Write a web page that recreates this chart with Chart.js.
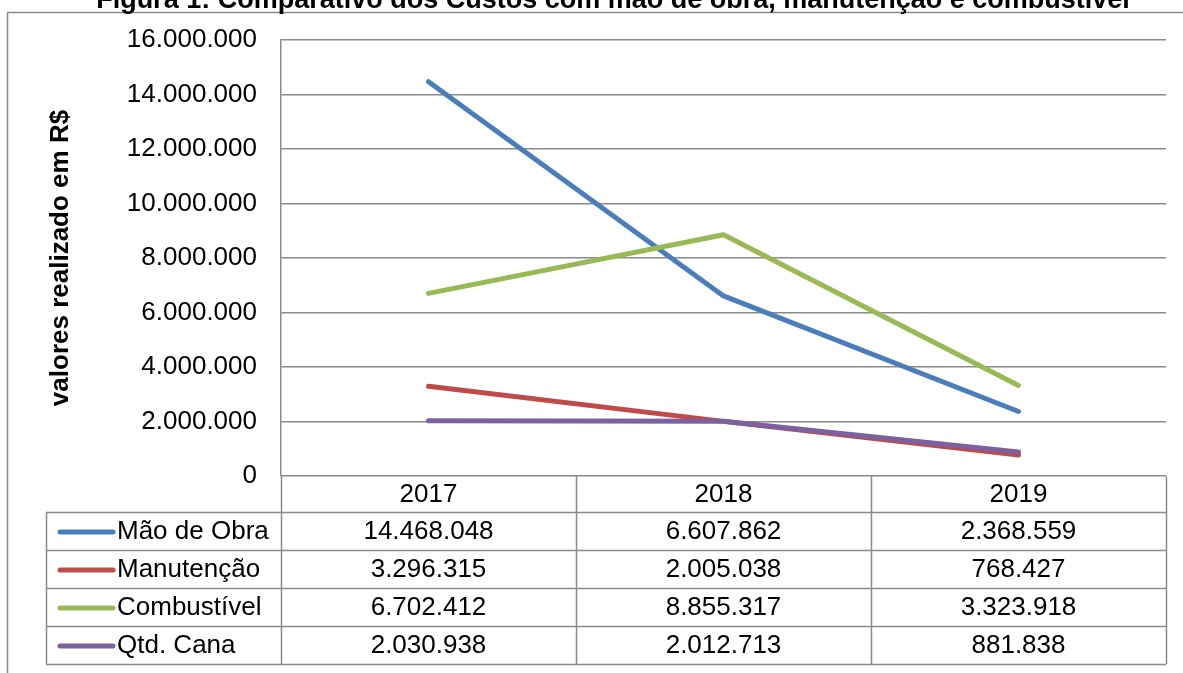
<!DOCTYPE html>
<html>
<head>
<meta charset="utf-8">
<script src="https://cdn.jsdelivr.net/npm/chart.js@4.4.1/dist/chart.umd.min.js"></script>
<style>
  html, body { margin: 0; padding: 0; background: #ffffff; }
  #chart { display: block; }
</style>
</head>
<body>
<canvas id="chart" width="1183" height="673"></canvas>
<script>
// Anos (categorias)
const years = ['2017', '2018', '2019'];

// Séries (R$)
const maoDeObra   = [14468048, 6607862, 2368559];
const manutencao  = [3296315, 2005038, 768427];
const combustivel = [6702412, 8855317, 3323918];
const qtdCana     = [2030938, 2012713, 881838];

const seriesNames = ['Mão de Obra', 'Manutenção', 'Combustível', 'Qtd. Cana'];
const seriesColors = ['#4A7EBB', '#BE4B48', '#98B954', '#7D60A0'];

// Eixo Y
const yMin = 0;
const yMax = 16000000;
const yStep = 2000000;

const titleText = 'Figura 1: Comparativo dos Custos com mão de obra, manutenção e combustível';
const yAxisTitle = 'valores realizado em R$';

const FONT = '"Liberation Sans", Arial, Helvetica, sans-serif';
const GRID = '#8a8a8a';

function fmt(n) {
  return String(Math.round(n)).replace(/\B(?=(\d{3})+(?!\d))/g, '.');
}

const seriesData = [maoDeObra, manutencao, combustivel, qtdCana];

// Moldura, título e tabela de dados com legenda
const tablePlugin = {
  id: 'dataTable',
  beforeDraw(chart) {
    const ctx = chart.ctx;
    ctx.save();
    ctx.fillStyle = '#ffffff';
    ctx.fillRect(0, 0, chart.width, chart.height);
    // moldura externa
    ctx.strokeStyle = GRID;
    ctx.lineWidth = 1.5;
    ctx.beginPath();
    ctx.moveTo(7.5, chart.height);
    ctx.lineTo(7.5, 12.5);
    ctx.lineTo(chart.width, 12.5);
    ctx.stroke();
    // título
    ctx.fillStyle = '#000000';
    ctx.font = 'bold 27px ' + FONT;
    ctx.textAlign = 'center';
    ctx.textBaseline = 'alphabetic';
    ctx.fillText(titleText, 613, 8);
    ctx.restore();
  },
  afterDraw(chart) {
    const ctx = chart.ctx;
    const x = chart.scales.x;
    const area = chart.chartArea;
    const n = years.length;
    const colW = (area.right - area.left) / n;
    const headerTop = area.bottom;
    const headerH = 36;
    const rowH = 38;
    const legendLeft = 46;
    const rowsTop = headerTop + headerH;
    const bottom = rowsTop + rowH * seriesNames.length;

    ctx.save();
    ctx.strokeStyle = GRID;
    ctx.lineWidth = 1.5;
    ctx.beginPath();
    // linhas horizontais
    for (let r = 0; r <= seriesNames.length; r++) {
      const y = Math.round(rowsTop + r * rowH) + 0.5;
      ctx.moveTo(legendLeft, y);
      ctx.lineTo(area.right, y);
    }
    // verticais do cabeçalho e das colunas
    for (let c = 0; c <= n; c++) {
      const xx = Math.round(area.left + c * colW) + 0.5;
      ctx.moveTo(xx, headerTop);
      ctx.lineTo(xx, bottom);
    }
    ctx.moveTo(legendLeft + 0.5, rowsTop);
    ctx.lineTo(legendLeft + 0.5, bottom);
    ctx.stroke();

    ctx.fillStyle = '#000000';
    ctx.font = '26px ' + FONT;
    ctx.textBaseline = 'middle';
    ctx.textAlign = 'center';
    years.forEach((yr, i) => {
      ctx.fillText(yr, x.getPixelForValue(i), headerTop + headerH / 2 + 1);
    });

    seriesNames.forEach((name, r) => {
      const cy = rowsTop + r * rowH + rowH / 2 + 1;
      // chave da legenda
      ctx.strokeStyle = seriesColors[r];
      ctx.lineWidth = 5;
      ctx.lineCap = 'round';
      ctx.beginPath();
      ctx.moveTo(60, cy);
      ctx.lineTo(113, cy);
      ctx.stroke();
      ctx.textAlign = 'left';
      ctx.fillText(name, 117, cy);
      ctx.textAlign = 'center';
      seriesData[r].forEach((v, i) => {
        ctx.fillText(fmt(v), x.getPixelForValue(i), cy);
      });
    });
    ctx.restore();
  }
};

const datasets = seriesNames.map((name, i) => ({
  label: name,
  data: seriesData[i],
  borderColor: seriesColors[i],
  backgroundColor: seriesColors[i],
  borderWidth: 5,
  borderCapStyle: 'round',
  borderJoinStyle: 'round',
  pointRadius: 0,
  pointHoverRadius: 0,
  tension: 0,
  fill: false,
  order: seriesNames.length - i
}));

new Chart(document.getElementById('chart'), {
  type: 'line',
  data: { labels: years, datasets },
  options: {
    responsive: false,
    animation: false,
    events: [],
    layout: { padding: { left: 0, top: 40, right: 17, bottom: 197 } },
    plugins: {
      legend: { display: false },
      title: { display: false },
      tooltip: { enabled: false }
    },
    scales: {
      x: {
        type: 'category',
        display: false,
        offset: true
      },
      y: {
        min: yMin,
        max: yMax,
        afterFit(scale) { scale.width = 281; },
        ticks: {
          stepSize: yStep,
          padding: 24,
          color: '#000000',
          font: { family: FONT, size: 26 },
          callback: (v) => fmt(v)
        },
        grid: {
          color: GRID,
          lineWidth: 1.5,
          drawTicks: false
        },
        border: { display: true, color: GRID, width: 1.5 },
        title: {
          display: true,
          text: yAxisTitle,
          color: '#000000',
          font: { family: FONT, size: 26, weight: 'bold' },
          padding: { top: 45, bottom: 0 }
        }
      }
    }
  },
  plugins: [tablePlugin]
});
</script>
</body>
</html>
